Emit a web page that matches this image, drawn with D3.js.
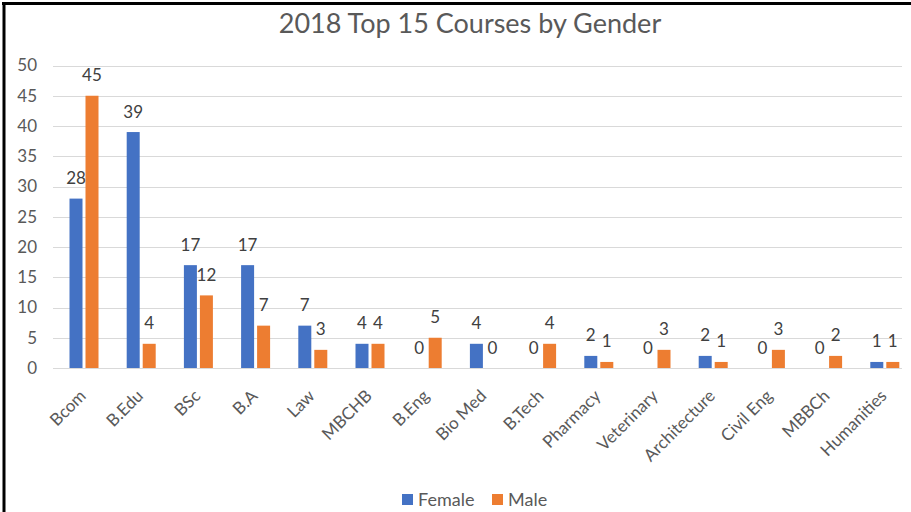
<!DOCTYPE html>
<html>
<head>
<meta charset="utf-8">
<script src="https://cdn.jsdelivr.net/npm/d3@7"></script>
<style>
  html, body { margin: 0; padding: 0; background: #fff; }
  svg { display: block; font-family: Lato, "Open Sans", sans-serif; }
</style>
</head>
<body>
<svg id="chart"></svg>
<script>
// chart data
const courses = ["Bcom", "B.Edu", "BSc", "B.A", "Law", "MBCHB", "B.Eng", "Bio Med", "B.Tech",
                 "Pharmacy", "Veterinary", "Architecture", "Civil Eng", "MBBCh", "Humanities"];
const female = [28, 39, 17, 17, 7, 4, 0, 4, 0, 2, 0, 2, 0, 0, 1];
const male = [45, 4, 12, 7, 3, 4, 5, 0, 4, 1, 3, 1, 3, 2, 1];
const yTicks = [0, 5, 10, 15, 20, 25, 30, 35, 40, 45, 50];
const seriesNames = ["Female", "Male"];
const seriesColors = ["#4472C4", "#ED7D31"];

const width = 911;
const height = 512;

const svg = d3.select("#chart").attr("width", width).attr("height", height);

// frame (left + top edge visible in the crop)
svg.append("line").attr("x1", 4).attr("x2", 4).attr("y1", 2).attr("y2", height)
    .attr("stroke", "#000").attr("stroke-width", 3);
svg.append("line").attr("x1", 2).attr("x2", width).attr("y1", 3.5).attr("y2", 3.5)
    .attr("stroke", "#000").attr("stroke-width", 3);

// title
svg.append("text")
    .attr("x", 470).attr("y", 33)
    .attr("text-anchor", "middle")
    .attr("font-size", 27)
    .attr("fill", "#595959")
    .text("2018 Top 15 Courses by Gender");

// category scale (bar groups), grid spans 53..902
const x0 = d3.scaleBand()
    .domain(courses)
    .range([55.4, 913.4])
    .paddingInner(0.493)
    .paddingOuter(0.2465);

const x1 = d3.scaleBand()
    .domain(seriesNames)
    .range([0, x0.bandwidth()])
    .paddingInner(3 / 16);

const y = d3.scaleLinear()
    .domain([0, 50])
    .range([368, 65.5]);

// gridlines
svg.append("g")
    .selectAll("line")
    .data(yTicks)
    .join("line")
    .attr("x1", 53).attr("x2", 902)
    .attr("y1", d => Math.round(y(d)) + 0.5)
    .attr("y2", d => Math.round(y(d)) + 0.5)
    .attr("stroke", "#D9D9D9")
    .attr("stroke-width", 1);

// y axis labels
const yAxis = svg.append("g")
    .attr("transform", "translate(53,0)")
    .call(d3.axisLeft(y).tickValues(yTicks).tickSize(0).tickPadding(16));
yAxis.select(".domain").remove();
yAxis.selectAll("text")
    .attr("font-family", "Lato, 'Open Sans', sans-serif")
    .attr("font-size", 17)
    .attr("fill", "#595959");

// bars
const rows = courses.map((c, i) => ({ course: c, values: [female[i], male[i]] }));

const groups = svg.append("g")
    .selectAll("g")
    .data(rows)
    .join("g")
    .attr("transform", d => `translate(${x0(d.course)},0)`);

groups.selectAll("rect")
    .data(d => d.values.map((v, j) => ({ key: seriesNames[j], value: v, color: seriesColors[j] })))
    .join("rect")
    .attr("x", d => x1(d.key))
    .attr("width", x1.bandwidth())
    .attr("y", d => y(d.value))
    .attr("height", d => y(0) - y(d.value))
    .attr("fill", d => d.color);

groups.selectAll("text.val")
    .data(d => d.values.map((v, j) => ({ key: seriesNames[j], value: v })))
    .join("text")
    .attr("class", "val")
    .attr("x", d => x1(d.key) + x1.bandwidth() / 2)
    .attr("y", d => y(d.value) - 14.5)
    .attr("text-anchor", "middle")
    .attr("font-size", 17)
    .attr("fill", "#404040")
    .text(d => d.value);

// x axis line
svg.append("line")
    .attr("x1", 53).attr("x2", 902)
    .attr("y1", 368.5).attr("y2", 368.5)
    .attr("stroke", "#D9D9D9");

// x labels, rotated
svg.append("g")
    .selectAll("text")
    .data(courses)
    .join("text")
    .attr("transform", d => `translate(${x0(d) + x0.bandwidth() / 2 + 3},397) rotate(-45)`)
    .attr("text-anchor", "end")
    .attr("font-size", 17)
    .attr("fill", "#595959")
    .text(d => d);

// legend
const legend = svg.append("g");
const legendX = [402, 492];
seriesNames.forEach((name, i) => {
    legend.append("rect")
        .attr("x", legendX[i]).attr("y", 494)
        .attr("width", 11).attr("height", 11)
        .attr("fill", seriesColors[i]);
    legend.append("text")
        .attr("x", legendX[i] + 16).attr("y", 506)
        .attr("font-size", 18)
        .attr("fill", "#595959")
        .text(name);
});
</script>
</body>
</html>
